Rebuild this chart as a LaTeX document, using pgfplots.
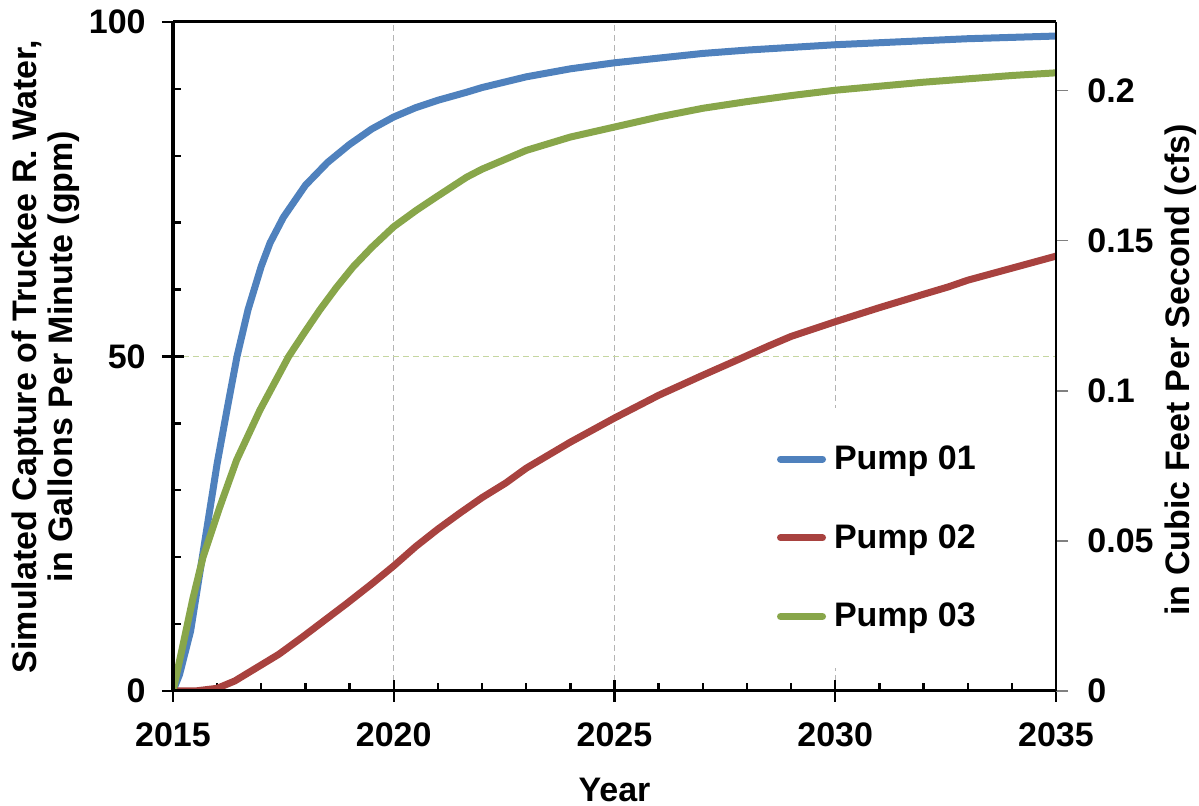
\documentclass[border=0pt]{standalone}
\usepackage{fontspec}
\setmainfont{Liberation Sans}
\usepackage{pgfplots}
\pgfplotsset{compat=1.18}
\definecolor{pblue}{HTML}{4F81BD}
\definecolor{pred}{HTML}{A8423F}
\definecolor{pgreen}{HTML}{88A64A}
\definecolor{xgrid}{HTML}{B4B4B4}
\definecolor{ygrid}{HTML}{C5D6A0}
\newcommand\lab{\fontsize{17}{18}\selectfont\bfseries}
\begin{document}
\begin{tikzpicture}
\useasboundingbox (-86.5pt,-57.5pt) rectangle (513pt,345.5pt);
\begin{axis}[
  at={(0,0)}, anchor=south west,
  width=441.5pt, height=334.5pt, scale only axis,
  xmin=2015, xmax=2035, ymin=0, ymax=100,
  axis x line*=bottom, axis y line*=left,
  axis line style={line width=1.5pt, black},
  xtick={2015,2020,2025,2030,2035}, xticklabels={2015,2020,2025,2030,2035},
  ytick={0,50,100}, yticklabels={0,50,100},
  minor x tick num=4, minor y tick num=4,
  tick align=inside,
  major tick length=0pt, minor tick length=4pt,
  tick style={black, line width=1.2pt},
  xmajorgrids, ymajorgrids,
  x grid style={xgrid, dash pattern=on 3pt off 2pt, line width=0.6pt},
  y grid style={ygrid, dash pattern=on 3pt off 2pt, line width=0.6pt},
  /pgf/number format/assume math mode=true,
  xticklabel style={font=\lab, anchor=north, inner sep=0pt, yshift=-15.5pt},
  yticklabel style={font=\lab, anchor=east, inner sep=0pt, xshift=-13.5pt},
  xlabel={Year},
  every axis x label/.style={at={(axis description cs:0.5,-0.148)}, anchor=center, font=\lab},
  ylabel={Simulated Capture of Truckee R. Water,\\in Gallons Per Minute (gpm)},
  every axis y label/.style={at={(axis description cs:-0.1438,0.5)}, rotate=90, anchor=center, font=\lab, align=center},
  legend image code/.code={\draw[#1, line cap=round] (0pt,0pt) -- (21pt,0pt);},
  legend style={at={(axis description cs:0.6836,0.229)}, anchor=west, draw=none, fill=white,
    font=\lab, inner xsep=0pt, inner ysep=18pt, row sep=24pt, column sep=3pt,
    nodes={inner sep=1pt}},
  legend cell align=left,
]
\addplot[pblue, line width=3.5pt, line join=round, line cap=round] table {
2015.00 0
2015.15 2.5
2015.40 9
2015.70 21.5
2016.00 34
2016.25 43
2016.45 50
2016.70 57
2017.00 63.5
2017.20 67
2017.50 70.8
2018.00 75.6
2018.50 79
2019.00 81.7
2019.50 84
2020.00 85.8
2020.50 87.2
2021.00 88.3
2021.65 89.5
2022.00 90.2
2023.00 91.8
2024.00 93
2025.00 93.9
2026.00 94.6
2027.00 95.3
2028.00 95.8
2029.00 96.2
2030.00 96.6
2031.00 96.9
2032.00 97.2
2033.00 97.5
2034.00 97.7
2035.00 97.9
};
\addlegendentry{Pump 01}
\addplot[pred, line width=3.5pt, line join=round, line cap=round] table {
2015.00 0
2015.50 0
2016.00 0.4
2016.40 1.5
2016.80 3.1
2017.40 5.5
2017.94 8.1
2018.50 10.9
2018.94 13.1
2019.50 16
2020.00 18.7
2020.50 21.6
2021.00 24.2
2021.50 26.6
2022.00 28.9
2022.54 31.1
2023.00 33.3
2024.00 37.2
2025.00 40.8
2026.00 44.2
2027.00 47.2
2027.79 49.5
2028.50 51.6
2029.00 53
2030.00 55.2
2031.00 57.3
2032.00 59.3
2032.56 60.4
2033.00 61.4
2034.00 63.2
2035.00 65
};
\addlegendentry{Pump 02}
\addplot[pgreen, line width=3.5pt, line join=round, line cap=round] table {
2015.00 0
2015.23 7
2015.45 13.8
2015.68 20
2016.06 27.5
2016.44 34.5
2016.97 42
2017.62 50
2018.00 53.8
2018.33 57
2018.70 60.3
2019.08 63.4
2019.50 66.3
2020.00 69.4
2020.50 71.8
2021.00 74
2021.65 76.8
2022.00 78
2023.00 80.8
2024.00 82.8
2025.00 84.3
2026.00 85.8
2027.00 87.1
2028.00 88.1
2029.00 89
2030.00 89.8
2031.00 90.4
2032.00 91
2033.00 91.5
2034.00 92
2035.00 92.4
};
\addlegendentry{Pump 03}
\end{axis}
% major ticks crossing the left and bottom axes
\begin{axis}[
  at={(0,0)}, anchor=south west,
  width=441.5pt, height=334.5pt, scale only axis,
  xmin=2015, xmax=2035, ymin=0, ymax=100,
  axis x line*=bottom, axis y line*=left,
  axis line style={line width=1.5pt, black},
  xtick={2015,2020,2025,2030,2035}, ytick={0,50,100},
  xticklabels={}, yticklabels={},
  tick align=center, major tick length=11pt,
  tick style={black, line width=1.2pt},
]
\end{axis}
\begin{axis}[
  at={(0,0)}, anchor=south west,
  width=441.5pt, height=334.5pt, scale only axis,
  xmin=2015, xmax=2035, ymin=0, ymax=0.2228,
  axis x line*=top, axis y line*=right,
  x axis line style={line width=1.5pt, black},
  y axis line style={line width=0.8pt, black},
  xtick=\empty,
  ytick={0,0.05,0.1,0.15,0.2}, yticklabels={0,0.05,0.1,0.15,0.2},
  tick align=outside, major tick length=6pt,
  ytick style={gray, line width=0.8pt},
  /pgf/number format/assume math mode=true,
  yticklabel style={font=\lab, anchor=west, inner sep=0pt, xshift=9.5pt},
  ylabel={in Cubic Feet Per Second (cfs)},
  every axis y label/.style={at={(axis description cs:1.141,0.48)}, rotate=90, anchor=center, font=\lab, inner sep=0pt},
]
\end{axis}
\end{tikzpicture}
\end{document}
